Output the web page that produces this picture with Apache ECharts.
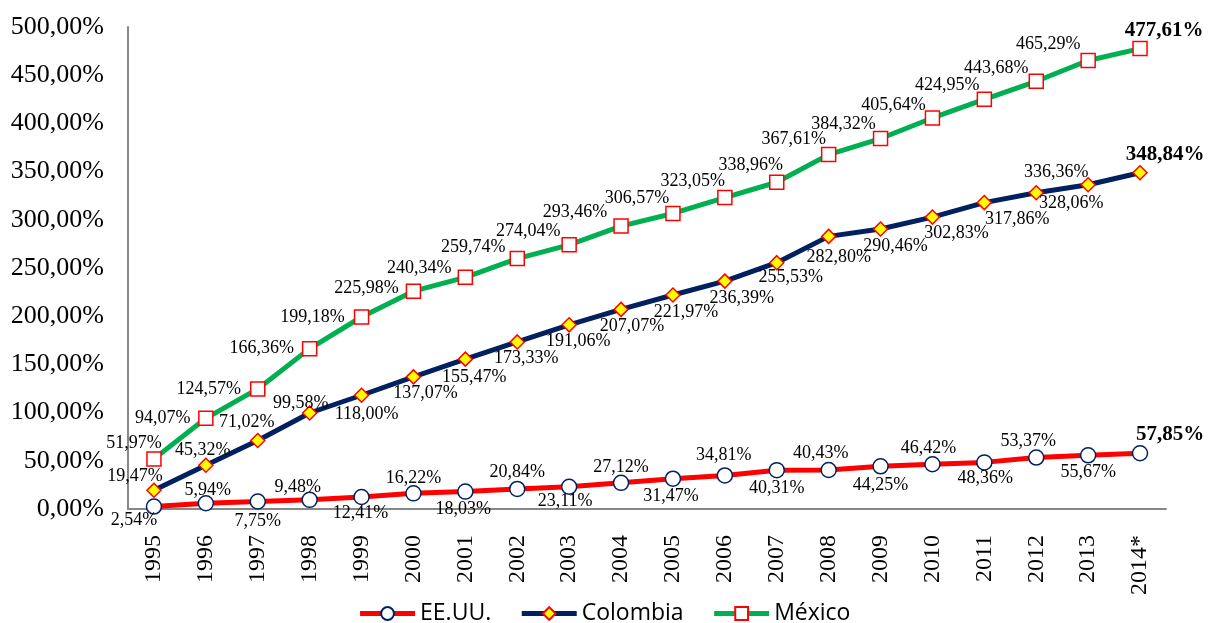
<!DOCTYPE html>
<html>
<head>
<meta charset="utf-8">
<script src="https://cdn.jsdelivr.net/npm/echarts@6/dist/echarts.min.js"></script>
<style>
html,body{margin:0;padding:0;background:#fff;}
#chart{width:1208px;height:623px;}
</style>
</head>
<body>
<div id="chart"></div>
<script>
const years = ['1995','1996','1997','1998','1999','2000','2001','2002','2003','2004','2005','2006','2007','2008','2009','2010','2011','2012','2013','2014*'];
const eeuu = [2.54,5.94,7.75,9.48,12.41,16.22,18.03,20.84,23.11,27.12,31.47,34.81,40.31,40.43,44.25,46.42,48.36,53.37,55.67,57.85];
const colombia = [19.47,45.32,71.02,99.58,118.00,137.07,155.47,173.33,191.06,207.07,221.97,236.39,255.53,282.80,290.46,302.83,317.86,328.06,336.36,348.84];
const mexico = [51.97,94.07,124.57,166.36,199.18,225.98,240.34,259.74,274.04,293.46,306.57,323.05,338.96,367.61,384.32,405.64,424.95,443.68,465.29,477.61];
const seriesNames = ['EE.UU.','Colombia','México'];

// label offsets (layout only), relative to the marker centre
const eeuuOff = [[-20,14],[2,-13],[0,20],[-12,-13],[-1,16],[0,-15],[-2,18],[0,-17],[-4,15],[0,-16],[-2,18],[-1,-20],[0,18],[-8,-17],[0,19],[-4,-16],[1,16],[-8,-16],[0,17],[30,-19]];
const colOff = [[-19,-14],[-3,-15],[-11,-18],[-9,-10],[5,19],[12,16],[9,18],[9,16],[9,16],[11,17],[13,17],[17,17],[14,15],[10,21],[15,17],[24,16],[33,17],[35,11],[-32,-12],[25,-18]];
const mexOff = [[-20,-16],[-43,0],[-49,0],[-48,0],[-49,0],[-47,-3],[-46,-9],[-44,-11],[-41,-14],[-46,-14],[-36,-15],[-32,-16],[-26,-17],[-35,-15],[-37,-14],[-39,-13],[-37,-14],[-40,-13],[-40,-16],[24,-18]];

function fmt(v){ return v.toFixed(2).replace('.', ',') + '%'; }

function buildData(values, offs){
  return values.map((v,i)=>{
    const last = i === values.length-1;
    return {
      value: v,
      label: {
        offset: offs[i],
        fontWeight: last ? 'bold' : 'normal',
        fontSize: last ? 21 : 18
      }
    };
  });
}

const baseLabel = {
  show: true,
  position: 'inside',
  color: '#000',
  fontFamily: '"Liberation Serif", "Times New Roman", serif',
  fontSize: 18,
  formatter: p => fmt(p.value)
};

const chart = echarts.init(document.getElementById('chart'), null, {renderer:'canvas'});
chart.setOption({
  animation: false,
  backgroundColor: '#fff',
  grid: {left: 128, right: 42, top: 27, bottom: 114},
  legend: {
    top: 597,
    left: 'center',
    itemWidth: 55,
    itemHeight: 16,
    itemGap: 28,
    lineStyle: {width: 5},
    textStyle: {fontFamily: '"Open Sans", sans-serif', fontSize: 23, color: '#000'},
    data: seriesNames
  },
  xAxis: {
    type: 'category',
    data: years,
    boundaryGap: true,
    axisLine: {lineStyle: {color: '#878787', width: 2}},
    axisTick: {show: false},
    axisLabel: {
      interval: 0, rotate: 90, margin: 26,
      color: '#000', fontSize: 24,
      fontFamily: '"Liberation Serif", "Times New Roman", serif'
    }
  },
  yAxis: {
    type: 'value',
    min: 0, max: 500, interval: 50,
    axisLine: {show: true, lineStyle: {color: '#878787', width: 2}},
    axisTick: {show: false},
    splitLine: {show: false},
    axisLabel: {
      margin: 24, color: '#000', fontSize: 26,
      fontFamily: '"Liberation Serif", "Times New Roman", serif',
      formatter: v => fmt(v)
    }
  },
  series: [
    {
      name: seriesNames[0], type: 'line', z: 3,
      data: buildData(eeuu, eeuuOff),
      symbol: 'circle', symbolSize: 15,
      lineStyle: {color: '#FF0000', width: 5},
      itemStyle: {color: '#FFFFFF', borderColor: '#002060', borderWidth: 1.5},
      label: baseLabel
    },
    {
      name: seriesNames[1], type: 'line', z: 3,
      data: buildData(colombia, colOff),
      symbol: 'diamond', symbolSize: 14,
      lineStyle: {color: '#002060', width: 5},
      itemStyle: {color: '#FFFF00', borderColor: '#FF0000', borderWidth: 1.5},
      label: baseLabel
    },
    {
      name: seriesNames[2], type: 'line', z: 3,
      data: buildData(mexico, mexOff),
      symbol: 'rect', symbolSize: 14,
      lineStyle: {color: '#00B050', width: 5},
      itemStyle: {color: '#FFFFFF', borderColor: '#FF0000', borderWidth: 1.5},
      label: baseLabel
    }
  ]
});
</script>
</body>
</html>
